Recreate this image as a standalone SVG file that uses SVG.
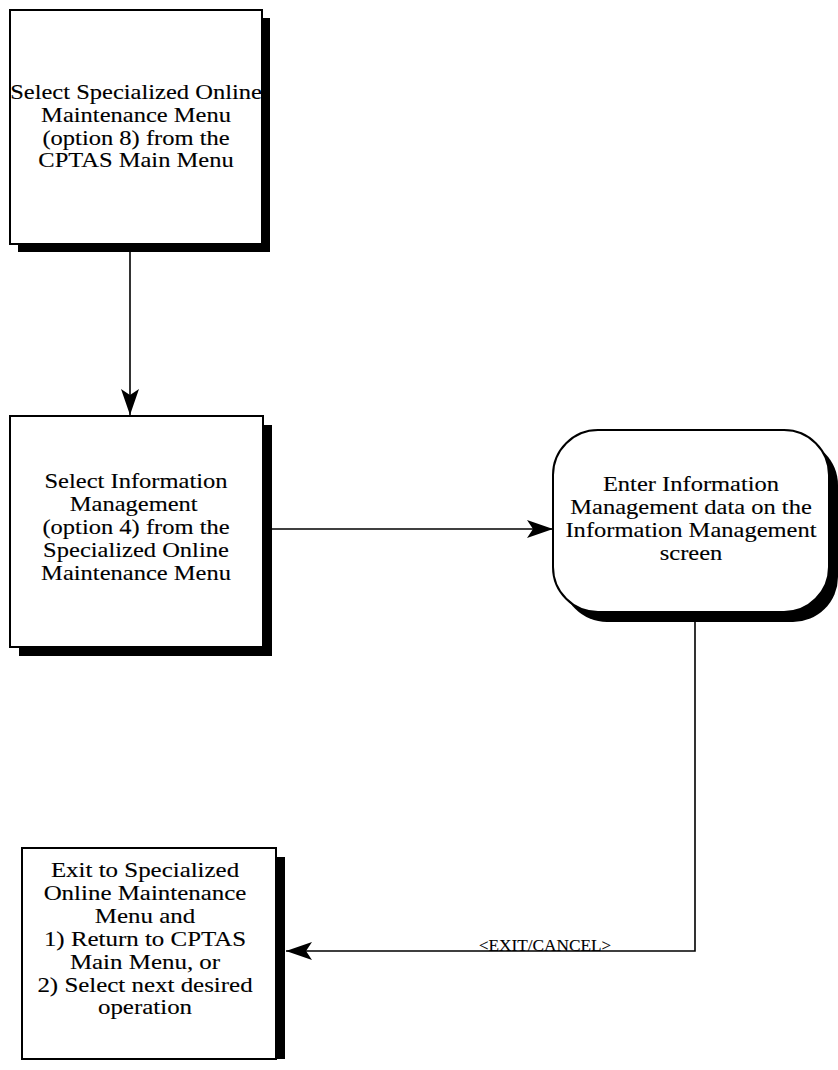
<svg xmlns="http://www.w3.org/2000/svg" width="838" height="1070" viewBox="0 0 838 1070">
  <style>
    .box { fill: #ffffff; stroke: #000000; stroke-width: 2; }
    .shadow { fill: #000000; }
    .lbl { font-family: "Liberation Serif", "Times New Roman", serif; font-size: 21.5px; fill: #000000; stroke: #000000; stroke-width: 0.12; text-anchor: middle; }
    .edge { fill: none; stroke: #000000; stroke-width: 1.6; }
    .elbl { font-family: "Liberation Serif", "Times New Roman", serif; font-size: 16px; fill: #000000; stroke: #000000; stroke-width: 0.1; text-anchor: middle; }
  </style>
  <defs>
    <marker id="arrow" markerUnits="userSpaceOnUse" markerWidth="28" markerHeight="22" refX="26" refY="10" orient="auto">
      <path d="M26,10 L0,1 L6,10 L0,19 Z" fill="#000000"/>
    </marker>
  </defs>
  <rect width="838" height="1070" fill="#ffffff"/>

  <!-- Step 1 -->
  <g id="node-select-som">
    <rect class="shadow" x="18" y="18" width="252" height="234"/>
    <rect class="box" x="10" y="10" width="252" height="234"/>
    <g transform="translate(136,0) scale(1.14,1)">
      <text class="lbl" x="0" y="99">Select Specialized Online</text>
      <text class="lbl" x="0" y="122">Maintenance Menu</text>
      <text class="lbl" x="0" y="145">(option 8) from the</text>
      <text class="lbl" x="0" y="167">CPTAS Main Menu</text>
    </g>
  </g>

  <!-- Step 2 -->
  <g id="node-select-im">
    <rect class="shadow" x="19" y="425" width="253" height="231"/>
    <rect class="box" x="10" y="416" width="253" height="231"/>
    <g transform="translate(136,0) scale(1.14,1)">
      <text class="lbl" x="0" y="488">Select Information</text>
      <text class="lbl" x="-2" y="511">Management</text>
      <text class="lbl" x="0" y="534">(option 4) from the</text>
      <text class="lbl" x="0" y="557">Specialized Online</text>
      <text class="lbl" x="0" y="580">Maintenance Menu</text>
    </g>
  </g>

  <!-- Data entry screen -->
  <g id="node-enter-im">
    <rect class="shadow" x="562" y="440" width="276" height="182" rx="45" ry="45"/>
    <rect class="box" x="553" y="430" width="276" height="182" rx="45" ry="45"/>
    <g transform="translate(691,0) scale(1.14,1)">
      <text class="lbl" x="0" y="491">Enter Information</text>
      <text class="lbl" x="0" y="514">Management data on the</text>
      <text class="lbl" x="0" y="537">Information Management</text>
      <text class="lbl" x="0" y="560">screen</text>
    </g>
  </g>

  <!-- Exit -->
  <g id="node-exit">
    <rect class="shadow" x="276" y="857" width="9" height="202"/>
    <rect class="box" x="22" y="848" width="254" height="211"/>
    <g transform="translate(145,0) scale(1.16,1)">
      <text class="lbl" x="0" y="877">Exit to Specialized</text>
      <text class="lbl" x="0" y="900">Online Maintenance</text>
      <text class="lbl" x="0" y="923">Menu and</text>
      <text class="lbl" x="0" y="946">1) Return to CPTAS</text>
      <text class="lbl" x="0" y="969">Main Menu, or</text>
      <text class="lbl" x="0" y="992">2) Select next desired</text>
      <text class="lbl" x="0" y="1014">operation</text>
    </g>
  </g>

  <!-- Connectors -->
  <g id="connectors">
    <path class="edge" d="M130,252 L130,415" marker-end="url(#arrow)"/>
    <path class="edge" d="M272,529 L553,529" marker-end="url(#arrow)"/>
    <path class="edge" d="M695,622 L695,951 L286,951" marker-end="url(#arrow)"/>
    <text class="elbl" x="545" y="951" transform="translate(545,0) scale(1.08,1) translate(-545,0)">&lt;EXIT/CANCEL&gt;</text>
  </g>
</svg>
